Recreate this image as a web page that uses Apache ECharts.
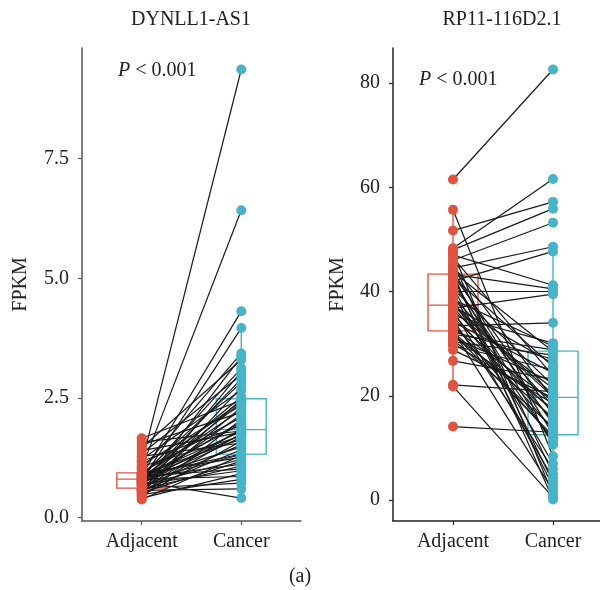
<!DOCTYPE html>
<html><head><meta charset="utf-8">
<script src="https://cdn.jsdelivr.net/npm/echarts@6/dist/echarts.min.js"></script>
<style>html,body{margin:0;padding:0;background:#fff}#c{width:600px;height:590px}</style>
</head><body><div id="c"></div>
<script>
// ---------- data ----------
const groups = ['Adjacent', 'Cancer'];
const genes = ['DYNLL1-AS1', 'RP11-116D2.1'];
const yTicks1 = [0, 2.5, 5, 7.5];
const yTicks2 = [0, 20, 40, 60, 80];
const pText = 'P < 0.001';
const panelTag = '(a)';

// DYNLL1-AS1 paired FPKM (same index = same patient)
const adjacent1 = [0.38,0.41,0.44,0.46,0.48,0.50,0.52,0.54,0.55,0.56,0.57,0.58,0.59,0.60,0.61,
  0.62,0.64,0.66,0.67,0.69,0.70,0.72,0.73,0.74,0.75,0.76,0.77,0.78,0.79,0.80,
  0.81,0.815,0.82,0.83,0.835,0.84,0.85,0.86,0.87,0.88,0.89,0.90,0.91,0.92,0.93,
  0.95,1.01,1.04,1.07,1.10,1.14,1.18,1.22,1.28,1.34,1.40,1.46,1.52,1.58,1.66];
const cancer1 = [1.30,0.92,2.05,1.60,0.80,2.72,1.18,1.76,3.05,1.42,0.60,2.30,1.08,1.85,2.47,
  0.72,1.52,3.36,1.22,2.15,0.98,1.68,2.90,1.83,0.41,2.40,1.32,3.96,1.73,2.00,
  0.86,2.52,1.48,3.12,1.12,1.96,2.25,1.02,1.80,4.31,1.33,2.82,1.64,2.43,1.26,
  2.10,3.43,6.42,1.70,2.35,9.36,1.92,2.66,1.56,2.98,1.78,3.30,2.20,1.81,2.45];

// RP11-116D2.1 paired FPKM
const adjacent2 = [61.5,55.7,51.7,48.3,48.0,47.5,47.0,46.5,46.0,45.5,45.0,44.5,44.0,43.8,43.5,
  43.3,43.2,43.0,42.8,42.4,42.0,41.5,41.0,40.5,40.0,39.5,39.0,38.5,38.0,37.5,
  37.3,37.2,37.0,36.8,36.5,36.2,35.8,35.4,35.0,34.6,34.2,33.8,33.4,33.0,32.5,
  32.3,32.2,32.0,31.8,31.5,31.2,30.8,30.4,30.0,29.6,28.8,26.7,22.1,21.8,14.1];
const cancer2 = [82.6,8.4,57.2,61.6,55.9,1.0,41.2,23.8,53.2,5.0,19.4,48.6,12.6,28.5,0.1,
  40.5,16.4,3.4,25.6,10.6,47.7,14.6,2.6,22.0,40.0,7.0,18.0,29.5,11.2,20.3,
  19.8,26.2,15.2,39.5,4.2,21.4,13.5,30.1,17.0,6.0,24.4,11.8,34.0,19.0,1.8,
  27.0,15.8,12.3,28.8,17.5,22.6,14.0,27.8,18.5,25.0,19.6,23.2,20.8,0.5,13.0];

// ---------- helpers ----------
const RED = '#E05441', CYAN = '#48B3C7';
const FONT = '"Liberation Serif","DejaVu Serif",serif';
const FS = 20;

function quantile(s, p) {
  const h = (s.length - 1) * p, lo = Math.floor(h);
  const hi = Math.min(lo + 1, s.length - 1);
  return s[lo] + (h - lo) * (s[hi] - s[lo]);
}
function boxStats(arr) {
  const s = [...arr].sort((a, b) => a - b);
  const q1 = quantile(s, .25), med = quantile(s, .5), q3 = quantile(s, .75);
  const iqr = q3 - q1;
  const lo = Math.min(...s.filter(v => v >= q1 - 1.5 * iqr));
  const hi = Math.max(...s.filter(v => v <= q3 + 1.5 * iqr));
  return [lo, q1, med, q3, hi];
}
function yRange(a, b) {
  const all = a.concat(b);
  const mn = Math.min(...all), mx = Math.max(...all), e = (mx - mn) * 0.05;
  return [mn - e, mx + e];
}

function boxRender(color) {
  return function (params, api) {
    const x = api.value(0);
    const lo = api.value(1), q1 = api.value(2), med = api.value(3), q3 = api.value(4), hi = api.value(5);
    const pTL = api.coord([x - 0.25, q3]);
    const pBR = api.coord([x + 0.25, q1]);
    const pM1 = api.coord([x - 0.25, med]);
    const pM2 = api.coord([x + 0.25, med]);
    const pHi = api.coord([x, hi]);
    const pLo = api.coord([x, lo]);
    const pQ3 = api.coord([x, q3]);
    const pQ1 = api.coord([x, q1]);
    const st = { stroke: color, fill: null, lineWidth: 1.4 };
    return {
      type: 'group',
      children: [
        { type: 'line', shape: { x1: pHi[0], y1: pHi[1], x2: pQ3[0], y2: pQ3[1] }, style: st },
        { type: 'line', shape: { x1: pLo[0], y1: pLo[1], x2: pQ1[0], y2: pQ1[1] }, style: st },
        { type: 'rect', shape: { x: pTL[0], y: pTL[1], width: pBR[0] - pTL[0], height: pBR[1] - pTL[1] }, style: st },
        { type: 'line', shape: { x1: pM1[0], y1: pM1[1], x2: pM2[0], y2: pM2[1] }, style: st }
      ]
    };
  };
}

function panelSeries(idx, adj, can) {
  const s = [];
  s.push({
    type: 'custom', xAxisIndex: idx, yAxisIndex: idx, z: 2, silent: true,
    renderItem: boxRender(RED), encode: { x: 0, y: [1, 2, 3, 4, 5] },
    data: [[1].concat(boxStats(adj))]
  });
  s.push({
    type: 'custom', xAxisIndex: idx, yAxisIndex: idx, z: 2, silent: true,
    renderItem: boxRender(CYAN), encode: { x: 0, y: [1, 2, 3, 4, 5] },
    data: [[2].concat(boxStats(can))]
  });
  s.push({
    type: 'lines', coordinateSystem: 'cartesian2d', xAxisIndex: idx, yAxisIndex: idx,
    z: 3, silent: true, polyline: false,
    lineStyle: { color: '#1a1a1a', width: 1.2, opacity: 1 },
    data: adj.map((a, i) => ({ coords: [[1, a], [2, can[i]]] }))
  });
  s.push({
    type: 'scatter', xAxisIndex: idx, yAxisIndex: idx, z: 4, silent: true,
    symbolSize: 10, itemStyle: { color: RED, opacity: 1 },
    data: adj.map(v => [1, v])
  });
  s.push({
    type: 'scatter', xAxisIndex: idx, yAxisIndex: idx, z: 4, silent: true,
    symbolSize: 10, itemStyle: { color: CYAN, opacity: 1 },
    data: can.map(v => [2, v])
  });
  return s;
}

function xAxisCfg(idx, max, color) {
  return {
    type: 'value', gridIndex: idx, min: 0.4, max: max,
    axisLine: { show: true, onZero: false, lineStyle: { color: color, width: 1.5 } },
    axisTick: { show: true, customValues: [1, 2], length: 4, lineStyle: { color: color, width: 1.2 } },
    axisLabel: {
      customValues: [1, 2], formatter: v => groups[Math.round(v) - 1],
      fontFamily: FONT, fontSize: FS, color: '#222', margin: 11
    },
    splitLine: { show: false }
  };
}
function yAxisCfg(idx, range, ticks, nameGap, color) {
  return {
    type: 'value', gridIndex: idx, min: range[0], max: range[1],
    name: 'FPKM', nameLocation: 'middle', nameRotate: 90, nameGap: nameGap,
    nameTextStyle: { fontFamily: FONT, fontSize: FS, color: '#222' },
    axisLine: { show: true, onZero: false, lineStyle: { color: color, width: 1.5 } },
    axisTick: { show: true, customValues: ticks, length: 4, lineStyle: { color: color, width: 1.2 } },
    axisLabel: {
      customValues: ticks, formatter: v => (idx === 0 ? v.toFixed(1) : String(v)),
      fontFamily: FONT, fontSize: FS, color: '#222', margin: 13
    },
    splitLine: { show: false }
  };
}

const r1 = yRange(adjacent1, cancer1);
const r2 = yRange(adjacent2, cancer2);

const option = {
  backgroundColor: '#fff',
  animation: false,
  grid: [
    { left: 82, right: 299, top: 48, bottom: 69 },
    { left: 393, right: 0, top: 48, bottom: 69 }
  ],
  xAxis: [xAxisCfg(0, 2.6, '#555'), xAxisCfg(1, 2.47, '#222')],
  yAxis: [yAxisCfg(0, r1, yTicks1, 51, '#555'), yAxisCfg(1, r2, yTicks2, 45, '#222')],
  series: panelSeries(0, adjacent1, cancer1).concat(panelSeries(1, adjacent2, cancer2)),
  graphic: [
    { type: 'text', x: 191, y: 20, style: { text: genes[0], font: FS + 'px ' + FONT, fill: '#222', align: 'center', verticalAlign: 'middle' } },
    { type: 'text', x: 502, y: 20, style: { text: genes[1], font: FS + 'px ' + FONT, fill: '#222', align: 'center', verticalAlign: 'middle' } },
    { type: 'text', x: 118, y: 71, style: { text: '{i|P}' + pText.slice(1), font: FS + 'px ' + FONT, fill: '#222', verticalAlign: 'middle',
      rich: { i: { fontStyle: 'italic', fontFamily: FONT, fontSize: FS, fill: '#222' } } } },
    { type: 'text', x: 419, y: 80, style: { text: '{i|P}' + pText.slice(1), font: FS + 'px ' + FONT, fill: '#222', verticalAlign: 'middle',
      rich: { i: { fontStyle: 'italic', fontFamily: FONT, fontSize: FS, fill: '#222' } } } },
    { type: 'text', x: 300, y: 577, style: { text: panelTag, font: FS + 'px ' + FONT, fill: '#222', align: 'center', verticalAlign: 'middle' } }
  ]
};
const chart = echarts.init(document.getElementById('c'), null, { renderer: 'canvas' });
chart.setOption(option);
</script></body></html>
